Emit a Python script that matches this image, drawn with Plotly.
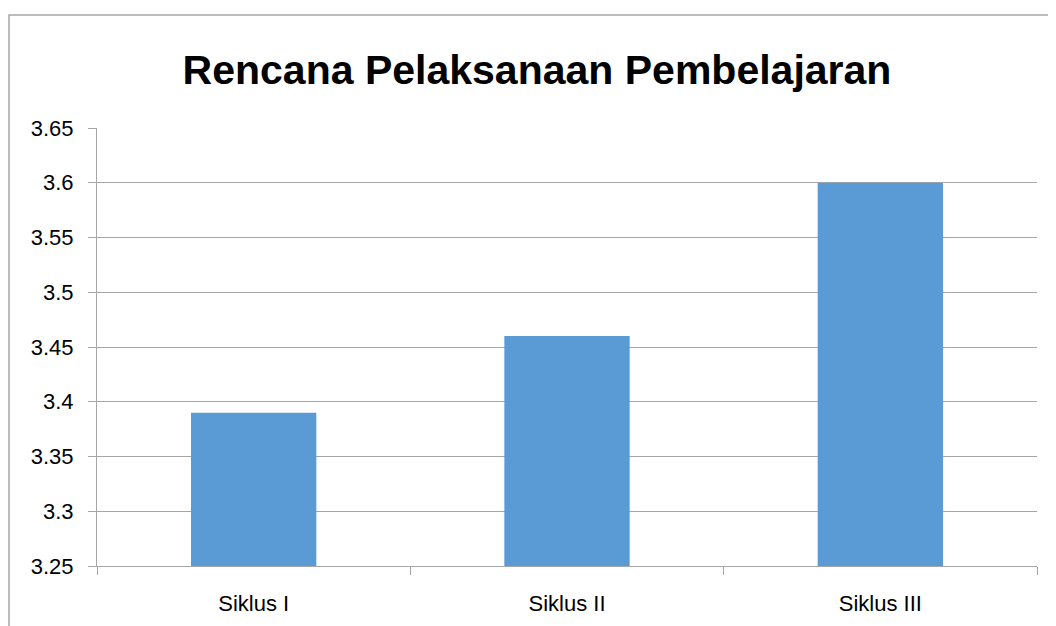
import plotly.graph_objects as go

categories = ["Siklus I", "Siklus II", "Siklus III"]
values = [3.39, 3.46, 3.6]
y_ticks = [3.25, 3.3, 3.35, 3.4, 3.45, 3.5, 3.55, 3.6, 3.65]
y_tick_labels = ["3.25", "3.3", "3.35", "3.4", "3.45", "3.5", "3.55", "3.6", "3.65"]

# page body has an 8px margin, so the figure is drawn 8px smaller and offset
OFF = 8
W, H = 1056 - OFF, 626 - OFF
ml, mr, mt, mb = 97 - OFF, 19, 128 - OFF, 60
pw, ph = W - ml - mr, H - mt - mb

fig = go.Figure(go.Bar(x=categories, y=values, marker_color="#5B9BD5",
                       marker_line_width=0, width=0.4))

fig.update_layout(
    width=W, height=H,
    margin=dict(l=ml, r=mr, t=mt, b=mb),
    paper_bgcolor="white", plot_bgcolor="white",
    font=dict(family="Liberation Sans", size=22, color="black"),
    title=dict(text="<b>Rencana Pelaksanaan Pembelajaran</b>",
               font=dict(size=41, family="Liberation Sans", color="black"),
               x=(537 - OFF - ml) / pw, xref="paper", xanchor="center",
               y=1 - (70 - OFF) / H, yref="container", yanchor="middle"),
    showlegend=False,
)
fig.update_yaxes(range=[3.25, 3.65], tickvals=y_ticks, ticktext=y_tick_labels,
                 showgrid=True, gridcolor="#A6A6A6", gridwidth=1,
                 showline=True, linecolor="#A6A6A6", linewidth=1,
                 ticks="outside", ticklen=8, tickcolor="#A6A6A6",
                 ticklabelstandoff=10, zeroline=False, automargin=False)
fig.update_xaxes(showline=True, linecolor="#A6A6A6", linewidth=1,
                 ticks="outside", ticklen=8, tickcolor="#A6A6A6",
                 tickson="boundaries", ticklabelstandoff=18, showgrid=False,
                 automargin=False)

# outer chart border
fig.add_shape(type="rect", xref="paper", yref="paper",
              x0=(1 - ml) / pw, x1=(W + 20 - ml) / pw,
              y0=-(mb + 20) / ph, y1=1 + (mt - (15 - OFF)) / ph,
              line=dict(color="#A6A6A6", width=1.5), layer="below")

fig.write_html("out.html")
